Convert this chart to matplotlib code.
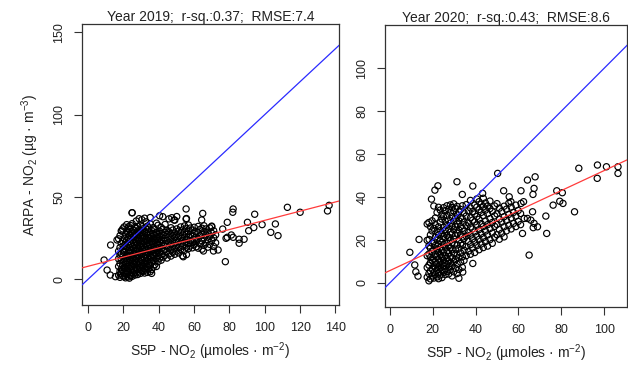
import matplotlib
matplotlib.use("Agg")
import matplotlib.pyplot as plt

plt.rcParams['font.family'] = ['Liberation Sans', 'DejaVu Sans']
plt.rcParams['mathtext.fontset'] = 'custom'
plt.rcParams['mathtext.rm'] = 'Liberation Sans'
plt.rcParams['mathtext.it'] = 'Liberation Sans'
plt.rcParams['mathtext.default'] = 'regular'

# ---------------- data ----------------
titles = ["Year 2019;  r-sq.:0.37;  RMSE:7.4", "Year 2020;  r-sq.:0.43;  RMSE:8.6"]

# linear fit (red) coefficients: intercept, slope
fit_2019 = (7.9, 0.279)
fit_2020 = (5.7, 0.466)

# 2019: sparse points
s5p_2019_sparse = [9.1, 12.8, 10.8, 12.6, 15.5, 16.4, 19.2, 23.0, 24.9, 36.0, 42.3, 47.4, 48.7,
                   55.5, 55.5, 53.9, 64.9, 64.3, 65.3, 70.0, 71.0, 73.6, 77.7, 76.2, 78.8, 78.1,
                   81.1, 82.1, 85.5, 88.3, 85.5, 82.1, 81.9, 78.8, 90.2, 93.8, 98.5, 90.9, 94.3,
                   106.0, 103.4, 107.5, 112.8, 120.0, 136.4, 135.5]
arpa_2019_sparse = [11.7, 20.8, 5.6, 2.6, 1.6, 23.9, 29.3, 32.0, 40.4, 3.6, 38.0, 37.4, 36.0,
                    42.7, 36.6, 13.7, 40.0, 36.0, 17.2, 31.9, 17.2, 17.8, 10.7, 30.5, 25.5, 24.9,
                    26.9, 25.5, 24.3, 24.3, 21.9, 42.7, 40.7, 34.6, 34.6, 31.4, 33.2, 29.5, 39.5,
                    33.6, 28.5, 26.5, 43.7, 40.7, 44.9, 41.5]

# 2019: dense cloud, by S5P column
s5p_2019_cols = [17.3, 18.1, 18.8, 19.6, 20.4, 21.2, 21.9, 22.7, 23.4, 24.2, 25.0, 25.8, 26.6,
                 27.3, 28.1, 28.9, 29.7, 30.5, 31.2, 32.0, 32.8, 33.6, 34.4, 35.2, 36.0, 36.9,
                 37.8, 38.7, 39.6, 40.5, 41.4, 42.5, 43.6, 44.7, 45.8, 46.9, 48.0, 49.1, 50.2,
                 51.3, 52.4, 53.5, 54.6, 55.7, 56.8, 57.9, 59.0, 60.1, 61.2, 62.3, 63.4, 64.5,
                 65.6, 66.7, 67.8, 68.9, 70.0, 71.1, 72.2]
arpa_2019_cols = [
    [2.5, 7.8, 12.4, 17.1, 24.6],
    [1.2, 4.9, 9.6, 14.8, 19.3, 26.5],
    [3.7, 6.2, 11.9, 15.5, 21.8, 29.4],
    [2.1, 5.8, 8.4, 13.6, 17.9, 23.2, 30.6],
    [1.6, 4.3, 7.1, 10.8, 16.2, 20.5, 24.9, 31.8],
    [0.9, 3.4, 6.6, 9.9, 12.7, 18.4, 22.6, 27.3],
    [2.8, 5.2, 8.9, 11.4, 14.6, 19.7, 23.8, 29.1, 33.2],
    [1.4, 4.6, 7.5, 10.2, 13.8, 16.7, 21.1, 25.4, 28.2, 31.0],
    [0.7, 3.1, 6.8, 9.3, 12.1, 15.9, 19.2, 22.8, 26.9, 30.3],
    [2.3, 5.6, 8.1, 11.7, 14.3, 17.6, 21.5, 24.4, 27.8, 32.6],
    [1.8, 4.1, 7.9, 10.6, 13.2, 16.4, 20.1, 23.5, 28.9, 33.8, 40.4],
    [3.3, 6.1, 9.2, 12.9, 15.7, 18.6, 22.3, 25.9, 29.7],
    [2.6, 5.1, 8.7, 11.3, 14.1, 17.4, 20.8, 24.1, 27.2, 31.6],
    [3.9, 7.2, 10.1, 12.8, 16.9, 19.5, 22.1, 26.3, 30.8, 35.4],
    [2.9, 5.9, 9.1, 13.7, 15.2, 18.8, 21.4, 25.1, 28.6, 32.2],
    [4.4, 8.2, 10.9, 14.4, 17.7, 20.6, 23.9, 27.5, 30.1, 36.8],
    [3.6, 6.9, 9.8, 12.3, 16.1, 19.9, 22.7, 26.6, 29.4, 33.1],
    [5.4, 8.6, 11.6, 15.3, 18.2, 21.7, 24.8, 28.1, 31.9, 36.2],
    [4.8, 7.6, 10.4, 13.9, 17.2, 20.3, 23.1, 26.2, 30.7],
    [3.8, 6.4, 9.7, 12.5, 16.6, 19.1, 22.9, 25.6, 28.4, 37.1],
    [5.7, 8.8, 11.1, 14.9, 18.1, 21.3, 24.2, 27.7, 30.4, 34.9],
    [4.2, 7.7, 10.6, 13.4, 16.3, 20.7, 23.4, 26.8, 32.3],
    [6.3, 9.4, 12.2, 15.8, 18.9, 22.2, 25.3, 28.8, 31.2],
    [4.6, 8.3, 11.8, 14.5, 17.6, 21.0, 24.6, 27.1, 33.6, 37.5],
    [5.9, 10.3, 13.1, 16.8, 19.6, 23.0, 26.1, 29.6],
    [7.4, 11.5, 14.7, 18.3, 21.9, 24.9, 27.9, 31.4],
    [8.9, 13.6, 16.2, 19.8, 23.3, 26.4, 30.2],
    [7.8, 12.7, 15.6, 18.7, 22.4, 25.2, 28.3, 34.1],
    [10.7, 14.2, 17.4, 21.2, 24.5, 27.4, 32.8],
    [12.8, 16.5, 19.4, 22.8, 25.9, 29.2, 38.6],
    [11.6, 15.1, 18.6, 21.6, 24.3, 28.0, 31.5],
    [13.5, 17.3, 20.6, 23.7, 26.6, 30.4],
    [14.6, 18.2, 21.8, 25.0, 28.5, 33.3],
    [12.9, 16.9, 20.2, 23.6, 27.2, 29.8],
    [15.4, 19.0, 22.5, 25.7, 28.9, 36.7],
    [14.1, 17.8, 21.3, 24.4, 27.6, 31.3],
    [16.4, 19.7, 23.1, 26.5, 29.9],
    [15.2, 18.5, 22.0, 25.4, 28.2, 35.9],
    [17.1, 20.4, 23.8, 27.0, 30.6, 38.1],
    [16.0, 19.3, 22.7, 26.2, 29.3],
    [18.2, 21.5, 24.9, 28.4, 31.8],
    [14.3, 20.1, 23.4, 26.9, 30.0],
    [17.5, 22.3, 25.5, 28.7, 32.4],
    [15.0, 19.4, 24.2, 27.4, 30.9, 36.9],
    [18.6, 21.8, 25.8, 29.1, 33.0],
    [20.3, 23.5, 27.3, 31.1],
    [19.1, 22.4, 26.0, 29.8],
    [21.0, 24.1, 27.9, 31.6],
    [19.8, 22.9, 25.6, 29.0],
    [18.9, 24.4, 28.3, 32.1],
    [21.5, 26.4, 30.3],
    [18.3, 23.2, 27.1, 31.0],
    [20.6, 25.1, 28.8, 32.5],
    [22.1, 26.8, 30.6],
    [19.5, 24.0, 28.6],
    [21.2, 26.1, 31.2],
    [23.6, 28.0, 32.3],
    [19.9, 25.2, 29.5],
    [22.2, 27.0]]

# 2020: sparse points
s5p_2020_sparse = [9.3, 11.6, 12.1, 13.1, 13.6, 18.3, 19.4, 21.0, 22.4, 31.3, 38.7, 33.8, 50.3,
                   43.3, 53.1, 64.2, 67.8, 61.2, 67.3, 66.8, 77.9, 80.5, 79.3, 80.8, 76.2, 88.2,
                   96.9, 96.8, 101.1, 106.5, 106.5, 86.2, 73.2, 72.8, 65.0, 61.9, 68.9, 66.9, 65.8,
                   66.6, 62.7, 38.7, 32.2, 34.0, 55.7, 56.5, 62.4, 61.2, 64.2, 67.3]
arpa_2020_sparse = [14.2, 8.3, 5.1, 3.1, 20.2, 20.2, 39.0, 43.2, 45.2, 47.1, 45.1, 41.2, 51.0,
                    41.7, 42.9, 47.9, 49.4, 42.9, 44.0, 41.2, 42.9, 42.0, 38.0, 37.0, 36.2, 53.4,
                    54.9, 48.7, 54.1, 54.1, 51.0, 33.1, 23.0, 31.1, 12.9, 23.0, 26.1, 25.7, 29.2,
                    33.1, 30.0, 9.0, 2.1, 5.0, 40.1, 37.8, 37.8, 37.0, 30.0, 27.7]

# 2020: dense cloud, by S5P column
s5p_2020_cols = [17.4, 18.2, 18.9, 19.7, 20.5, 21.2, 22.0, 22.7, 23.5, 24.3, 25.0, 25.8, 26.6,
                 27.4, 28.2, 29.0, 29.8, 30.6, 31.4, 32.2, 33.0, 33.8, 34.6, 35.6, 36.6, 37.6,
                 38.6, 39.6, 40.6, 41.6, 42.6, 43.6, 44.6, 45.6, 46.7, 47.8, 48.9, 50.0, 51.1,
                 52.2, 53.3, 54.4, 55.5, 56.6, 57.7, 58.8, 59.9, 61.0]
arpa_2020_cols = [
    [2.6, 7.1, 12.6, 19.8, 27.4],
    [0.9, 4.3, 8.2, 13.4, 17.2, 28.1],
    [1.8, 5.5, 9.4, 11.8, 16.1, 22.3, 26.2],
    [3.2, 6.4, 10.3, 14.6, 18.4, 24.2, 28.9],
    [2.2, 4.8, 7.9, 11.1, 15.3, 19.2, 25.4, 35.8],
    [3.9, 6.8, 9.7, 13.2, 17.4, 21.3, 27.1, 30.2],
    [2.7, 5.9, 8.8, 12.3, 15.8, 20.3, 23.9, 32.8],
    [1.9, 4.6, 7.6, 10.9, 14.2, 18.1, 22.4, 26.1, 35.2],
    [3.6, 6.9, 9.9, 13.1, 16.4, 19.6, 24.3, 28.2, 33.9],
    [2.4, 5.7, 8.5, 11.9, 15.1, 18.9, 22.8, 29.7, 31.8],
    [4.9, 7.8, 10.6, 14.1, 17.9, 21.6, 25.8, 30.9, 35.0],
    [3.8, 6.5, 9.3, 12.7, 16.6, 20.9, 24.6, 28.8, 33.6],
    [5.3, 8.6, 11.4, 14.9, 18.5, 22.1, 26.9, 31.4, 35.9],
    [4.1, 7.3, 10.2, 13.6, 17.1, 21.2, 25.1, 29.3, 34.3],
    [6.1, 9.1, 12.2, 16.3, 19.7, 23.6, 27.8, 32.7, 36.3],
    [3.2, 7.9, 11.6, 15.4, 18.6, 22.7, 26.4, 30.8, 35.1],
    [5.1, 9.8, 13.7, 20.4, 24.7, 28.6, 33.4, 36.8],
    [6.7, 10.9, 15.7, 21.9, 26.1, 30.1, 34.7],
    [4.3, 8.7, 12.9, 17.6, 23.1, 27.4, 31.6, 35.6],
    [6.2, 11.7, 16.1, 19.9, 24.6, 28.9, 33.1],
    [9.6, 13.9, 18.3, 22.4, 26.2, 30.4, 34.2],
    [7.2, 12.1, 17.4, 21.3, 25.3, 29.8, 35.9],
    [10.4, 15.2, 20.6, 24.1, 28.3, 32.6],
    [12.6, 16.9, 21.8, 26.7, 31.1, 36.4],
    [14.7, 19.3, 23.4, 27.9, 33.5],
    [13.3, 17.8, 22.2, 26.0, 30.3, 34.9, 38.4],
    [16.2, 20.5, 25.1, 29.2, 33.2],
    [14.1, 18.9, 23.7, 28.4, 32.1, 36.2],
    [17.3, 21.7, 26.9, 30.9, 35.3, 39.1],
    [15.4, 20.2, 24.8, 29.6, 34.1, 37.8],
    [18.1, 22.9, 27.6, 32.8, 36.6],
    [16.4, 21.1, 26.2, 31.3, 35.4, 39.4],
    [19.2, 24.1, 28.8, 33.9, 37.2],
    [17.1, 22.3, 27.1, 32.2, 35.8],
    [20.1, 25.3, 29.9, 34.6, 38.1],
    [18.4, 23.2, 28.1, 33.3],
    [21.3, 26.3, 31.2, 35.8],
    [22.4, 27.2, 32.1, 36.9],
    [20.3, 24.9, 29.7, 34.8],
    [23.1, 28.3, 33.2],
    [21.4, 26.1, 30.8, 35.7],
    [24.2, 29.1, 34.3],
    [26.8, 31.9, 37.1],
    [25.1, 30.2, 35.3],
    [27.7, 32.8],
    [26.2, 31.1, 36.2],
    [28.6, 33.7],
    [27.1, 32.3]]

xticks_2019 = [0, 20, 40, 60, 80, 100, 120, 140]
yticks_2019 = [0, 50, 100, 150]
xticks_2020 = [0, 20, 40, 60, 80, 100]
yticks_2020 = [0, 20, 40, 60, 80, 100]

xlabel = "S5P - NO$_2$ (µmoles · m$^{-2}$)"
ylabel = "ARPA - NO$_2$ (µg · m$^{-3}$)"


def expand(cols_x, cols_y):
    xs, ys = [], []
    for x, col in zip(cols_x, cols_y):
        for y in col:
            xs.append(x)
            ys.append(y)
    return xs, ys


W, H = 628, 366
fig = plt.figure(figsize=(W / 100, H / 100), dpi=100)

panels = [
    dict(rect=(82, 24, 339, 305), xlim=(-3.4, 142.0), ylim=(-15.6, 155.0),
         sx=s5p_2019_sparse, sy=arpa_2019_sparse, cx=s5p_2019_cols, cy=arpa_2019_cols,
         fit=fit_2019, xt=xticks_2019, yt=yticks_2019, title=titles[0], ylab=True),
    dict(rect=(385, 25, 627, 307), xlim=(-2.3, 110.7), ylim=(-11.3, 120.2),
         sx=s5p_2020_sparse, sy=arpa_2020_sparse, cx=s5p_2020_cols, cy=arpa_2020_cols,
         fit=fit_2020, xt=xticks_2020, yt=yticks_2020, title=titles[1], ylab=False),
]

edge = '#333333'
tc = '#222222'
for p in panels:
    l, t, r, b = p['rect']
    ax = fig.add_axes([l / W, (H - b) / H, (r - l) / W, (b - t) / H])
    xs, ys = expand(p['cx'], p['cy'])
    xs = list(xs) + list(p['sx'])
    ys = list(ys) + list(p['sy'])
    ax.scatter(xs, ys, s=20, facecolors='none', edgecolors='black', linewidths=0.85, zorder=2)
    x0, x1 = p['xlim']
    ax.plot([x0, x1], [x0, x1], color='#2a2aff', lw=0.9, zorder=3)
    a, bb = p['fit']
    ax.plot([x0, x1], [a + bb * x0, a + bb * x1], color='#ff3b3b', lw=0.9, zorder=3)
    ax.set_xlim(p['xlim'])
    ax.set_ylim(p['ylim'])
    ax.set_xticks(p['xt'])
    ax.set_yticks(p['yt'])
    ax.set_yticklabels([str(v) for v in p['yt']], rotation=90, va='center')
    ax.tick_params(axis='both', length=6, width=0.8, color=edge, labelsize=9,
                   labelcolor=tc, pad=6)
    for s in ax.spines.values():
        s.set_color(edge)
        s.set_linewidth(0.9)
    ax.set_title(p['title'], fontsize=10, pad=2, color=tc)
    ax.set_xlabel(xlabel, fontsize=10, color=tc, labelpad=5)
    if p['ylab']:
        ax.set_ylabel(ylabel, fontsize=10, color=tc, labelpad=9)

fig.savefig('out.png', dpi=100)
